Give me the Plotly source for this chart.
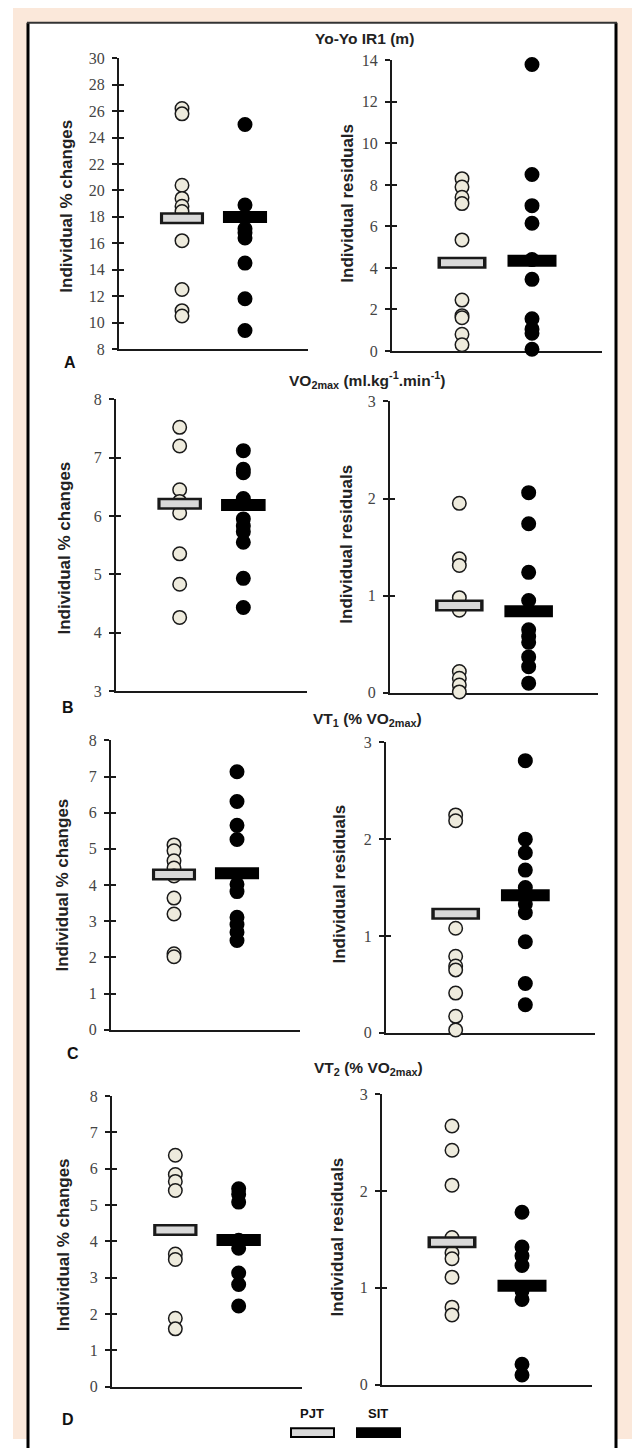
import plotly.graph_objects as go

# ---------------- data ----------------
groups = ["PJT", "SIT"]
group_pos = [1, 2]

titles = ["<b>Yo-Yo IR1 (m)</b>",
          "<b>VO<sub>2max</sub> (ml.kg<sup>-1</sup>.min<sup>-1</sup>)</b>",
          "<b>VT<sub>1</sub> (% VO<sub>2max</sub>)</b>",
          "<b>VT<sub>2</sub> (% VO<sub>2max</sub>)</b>"]
panel_letters = ["A", "B", "C", "D"]
ytitle_left = "Individual % changes"
ytitle_right = "Individual residuals"

A_left_PJT = [26.2, 25.8, 20.4, 19.4, 18.8, 18.4, 16.2, 12.5, 10.9, 10.5]
A_left_SIT = [25.0, 18.9, 18.0, 17.1, 16.8, 16.4, 14.5, 11.8, 9.4]
A_left_mean = [17.9, 18.0]
A_left_ticks = [8, 10, 12, 14, 16, 18, 20, 22, 24, 26, 28, 30]

A_right_PJT = [8.3, 7.9, 7.4, 7.1, 5.35, 2.45, 1.7, 1.6, 0.8, 0.3]
A_right_SIT = [13.8, 8.5, 7.0, 6.15, 4.4, 3.45, 1.55, 1.05, 0.85, 0.08]
A_right_mean = [4.25, 4.35]
A_right_ticks = [0, 2, 4, 6, 8, 10, 12, 14]

B_left_PJT = [7.52, 7.2, 6.45, 6.25, 6.05, 5.35, 4.83, 4.26]
B_left_SIT = [7.12, 6.8, 6.74, 6.3, 5.95, 5.83, 5.73, 5.55, 4.93, 4.43]
B_left_mean = [6.21, 6.19]
B_left_ticks = [3, 4, 5, 6, 7, 8]

B_right_PJT = [1.95, 1.38, 1.31, 0.98, 0.87, 0.85, 0.22, 0.15, 0.08, 0.01]
B_right_SIT = [2.06, 1.74, 1.24, 0.95, 0.65, 0.58, 0.52, 0.37, 0.27, 0.1]
B_right_mean = [0.9, 0.84]
B_right_ticks = [0, 1, 2, 3]

C_left_PJT = [5.11, 4.95, 4.67, 4.47, 4.25, 3.64, 3.2, 2.1, 2.02]
C_left_SIT = [7.13, 6.31, 5.65, 5.26, 4.02, 3.82, 3.11, 2.91, 2.7, 2.47]
C_left_mean = [4.29, 4.33]
C_left_ticks = [0, 1, 2, 3, 4, 5, 6, 7, 8]

C_right_PJT = [2.25, 2.19, 1.08, 0.79, 0.69, 0.65, 0.41, 0.17, 0.03]
C_right_SIT = [2.81, 2.0, 1.86, 1.68, 1.5, 1.33, 1.24, 0.94, 0.51, 0.29]
C_right_mean = [1.23, 1.42]
C_right_ticks = [0, 1, 2, 3]

D_left_PJT = [6.37, 5.84, 5.65, 5.4, 3.65, 3.5, 1.88, 1.59]
D_left_SIT = [5.45, 5.3, 5.08, 4.03, 3.81, 3.13, 2.81, 2.22]
D_left_mean = [4.31, 4.04]
D_left_ticks = [0, 1, 2, 3, 4, 5, 6, 7, 8]

D_right_PJT = [2.67, 2.42, 2.06, 1.52, 1.36, 1.3, 1.11, 0.8, 0.72]
D_right_SIT = [1.78, 1.42, 1.33, 1.23, 0.97, 0.88, 0.21, 0.1]
D_right_mean = [1.47, 1.02]
D_right_ticks = [0, 1, 2, 3]

# ---------------- layout geometry (pixels) ----------------
W, H = 632, 1448
def px(x): return x / W
def py(y): return 1 - y / H

panels = [
    dict(pjt=A_left_PJT, sit=A_left_SIT, mean=A_left_mean, ticks=A_left_ticks, box=(119, 308, 51, 345), yt=ytitle_left, ytx=67, yty=201),
    dict(pjt=A_right_PJT, sit=A_right_SIT, mean=A_right_mean, ticks=A_right_ticks, box=(392, 602, 53, 347), yt=ytitle_right, ytx=348, yty=198),
    dict(pjt=B_left_PJT, sit=B_left_SIT, mean=B_left_mean, ticks=B_left_ticks, box=(116, 307, 396, 691), yt=ytitle_left, ytx=65, yty=547),
    dict(pjt=B_right_PJT, sit=B_right_SIT, mean=B_right_mean, ticks=B_right_ticks, box=(390, 598, 398, 693), yt=ytitle_right, ytx=347, yty=543),
    dict(pjt=C_left_PJT, sit=C_left_SIT, mean=C_left_mean, ticks=C_left_ticks, box=(111, 300, 741, 1034), yt=ytitle_left, ytx=63, yty=888),
    dict(pjt=C_right_PJT, sit=C_right_SIT, mean=C_right_mean, ticks=C_right_ticks, box=(386, 595, 743, 1037), yt=ytitle_right, ytx=340, yty=887),
    dict(pjt=D_left_PJT, sit=D_left_SIT, mean=D_left_mean, ticks=D_left_ticks, box=(112, 302, 1101, 1395), yt=ytitle_left, ytx=63, yty=1252),
    dict(pjt=D_right_PJT, sit=D_right_SIT, mean=D_right_mean, ticks=D_right_ticks, box=(382, 592, 1099, 1393), yt=ytitle_right, ytx=337, yty=1244),
]
title_pos = [(364, 31), (367, 376), (367, 720), (368, 1073)]
letter_pos = [(70, 359), (68, 708), (73, 1058), (68, 1428)]

PJT_FILL = "#EEEBDD"
BAR_GRAY = "#D9D9D9"
INK = "#1a1a1a"
HALF_OUT = 0.35
HALF_IN = 0.30

fig = go.Figure()
layout = dict(width=W, height=H, margin=dict(l=0, r=0, t=0, b=0),
              paper_bgcolor="white", plot_bgcolor="rgba(0,0,0,0)",
              showlegend=False, annotations=[], shapes=[])

tickfont = dict(family="Liberation Serif", size=16, color="#444")
n = len(panels)
for i, p in enumerate(panels, start=1):
    x0, x1, yt, yb = p["box"]
    xa, ya = f"x{i}", f"y{i}"
    ov = f"y{i + n}"
    # points
    fig.add_trace(go.Scatter(x=[group_pos[0]] * len(p["pjt"]), y=p["pjt"], mode="markers",
                             marker=dict(size=13.5, color=PJT_FILL, line=dict(color=INK, width=1.5)),
                             xaxis=xa, yaxis=ya, cliponaxis=False, name=groups[0]))
    fig.add_trace(go.Scatter(x=[group_pos[1]] * len(p["sit"]), y=p["sit"], mode="markers",
                             marker=dict(size=13.5, color="black", line=dict(color="black", width=1.5)),
                             xaxis=xa, yaxis=ya, cliponaxis=False, name=groups[1]))
    # mean bars
    m_pjt, m_sit = p["mean"]
    c0, c1 = group_pos
    fig.add_trace(go.Scatter(x=[c0 - HALF_OUT, c0 + HALF_OUT], y=[m_pjt, m_pjt], mode="lines",
                             line=dict(color=INK, width=12), xaxis=xa, yaxis=ya, hoverinfo="skip"))
    fig.add_trace(go.Scatter(x=[c0 - HALF_IN, c0 + HALF_IN], y=[m_pjt, m_pjt], mode="lines",
                             line=dict(color=BAR_GRAY, width=7), xaxis=xa, yaxis=ya, hoverinfo="skip"))
    fig.add_trace(go.Scatter(x=[c1 - HALF_OUT, c1 + HALF_OUT], y=[m_sit, m_sit], mode="lines",
                             line=dict(color="black", width=12), xaxis=xa, yaxis=ya, hoverinfo="skip"))
    # dummy trace for overlay axis (inside tick half)
    fig.add_trace(go.Scatter(x=[None], y=[None], xaxis=xa, yaxis=ov, hoverinfo="skip"))

    rng = [min(p["ticks"]), max(p["ticks"])]
    layout[f"xaxis{i}"] = dict(domain=[px(x0), px(x1)], anchor=ya, range=[0, 3],
                              showline=True, linewidth=2, linecolor=INK, showticklabels=False,
                              ticks="", showgrid=False, zeroline=False, layer="below traces")
    layout[f"yaxis{i}"] = dict(domain=[py(yb), py(yt)], anchor=xa, range=rng, tickvals=p["ticks"],
                              showline=True, linewidth=2, linecolor=INK, ticks="outside",
                              ticklen=5, tickwidth=2, tickcolor=INK, showgrid=False, zeroline=False,
                              tickfont=tickfont, ticklabelstandoff=4, layer="below traces")
    layout[f"yaxis{i + n}"] = dict(overlaying=ya, anchor=xa, side="left", range=rng, tickvals=p["ticks"],
                                  showline=False, ticks="inside", ticklen=5, tickwidth=2, tickcolor=INK,
                                  showticklabels=False, showgrid=False, zeroline=False, layer="below traces")
    layout["annotations"].append(dict(text=f"<b>{p['yt']}</b>", x=px(p["ytx"]), y=py(p["yty"]),
                                      xref="paper", yref="paper", showarrow=False, textangle=-90,
                                      font=dict(family="Liberation Sans", size=17, color="#222"),
                                      xanchor="center", yanchor="middle"))

for t, (tx, ty) in zip(titles, title_pos):
    layout["annotations"].append(dict(text=t, x=px(tx), y=py(ty), xref="paper", yref="paper",
                                      showarrow=False, font=dict(family="Liberation Sans", size=15.5, color="#222"),
                                      xanchor="center", yanchor="middle"))
for t, (tx, ty) in zip(panel_letters, letter_pos):
    layout["annotations"].append(dict(text=f"<b>{t}</b>", x=px(tx), y=py(ty), xref="paper", yref="paper",
                                      showarrow=False, font=dict(family="Liberation Sans", size=16, color="#111"),
                                      xanchor="center", yanchor="middle"))

# legend (text over swatch)
legend_pos = [(312, 1422), (378, 1422)]
swatch_boxes = [(291, 334), (357, 400)]
swatch_fill = [BAR_GRAY, "black"]
for g, (tx, ty), (sx0, sx1), f in zip(groups, legend_pos, swatch_boxes, swatch_fill):
    layout["annotations"].append(dict(text=f"<b>{g}</b>", x=px(tx), y=py(ty), xref="paper", yref="paper",
                                      showarrow=False, font=dict(family="Liberation Sans", size=13, color="#111"),
                                      xanchor="center", yanchor="middle"))
    layout["shapes"].append(dict(type="rect", xref="paper", yref="paper", x0=px(sx0), x1=px(sx1),
                                 y0=py(1446), y1=py(1437), fillcolor=f, line=dict(color="black", width=2)))

# background frame
layout["shapes"] = [
    dict(type="rect", xref="paper", yref="paper", x0=px(13), x1=1, y0=0, y1=1,
         fillcolor="#FBE8DA", line=dict(width=0), layer="below"),
    dict(type="rect", xref="paper", yref="paper", x0=px(28), x1=px(616), y0=-0.01, y1=py(15),
         fillcolor="white", line=dict(width=0), layer="below"),
    dict(type="line", xref="paper", yref="paper", x0=px(28), x1=px(28), y0=-0.01, y1=py(15),
         line=dict(color="black", width=3), layer="below"),
    dict(type="line", xref="paper", yref="paper", x0=px(616), x1=px(616), y0=-0.01, y1=py(15),
         line=dict(color="black", width=3), layer="below"),
    dict(type="line", xref="paper", yref="paper", x0=px(27), x1=px(617), y0=py(15), y1=py(15),
         line=dict(color="#333", width=2), layer="below"),
] + layout["shapes"]

fig.update_layout(**layout)
fig.write_html("out.html", config={"displayModeBar": False},
               post_script="document.body.style.margin='0';document.body.style.overflow='hidden';")
